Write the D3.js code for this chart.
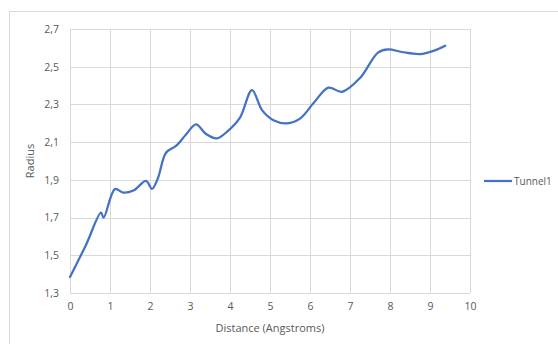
<!DOCTYPE html>
<html>
<head>
<meta charset="utf-8">
<script src="https://cdn.jsdelivr.net/npm/d3@7"></script>
<style>
  body { margin: 0; background: #fff; }
  text { font-family: "Open Sans", sans-serif; fill: #595959; }
</style>
</head>
<body>
<div id="chart"></div>
<script>
// Tunnel radius profile
var distance = [0, 0.4, 0.775, 0.84, 1.125, 1.33, 1.6, 1.9, 2.05, 2.2, 2.4, 2.65, 2.9, 3.15, 3.4, 3.67, 3.95, 4.25, 4.55, 4.8, 5.1, 5.42, 5.75, 6.1, 6.46, 6.8, 7.25, 7.7, 7.95, 8.3, 8.75, 9.1, 9.38];
var radius = [1.385, 1.555, 1.726, 1.70, 1.851, 1.832, 1.845, 1.895, 1.852, 1.91, 2.044, 2.08, 2.14, 2.194, 2.143, 2.12, 2.16, 2.23, 2.376, 2.27, 2.215, 2.2, 2.225, 2.31, 2.389, 2.367, 2.44, 2.575, 2.592, 2.578, 2.567, 2.585, 2.611];
var x_ticks = [0, 1, 2, 3, 4, 5, 6, 7, 8, 9, 10];
var y_ticks = [1.3, 1.5, 1.7, 1.9, 2.1, 2.3, 2.5, 2.7];
var series_name = 'Tunnel1';

var chart_width = 558;
var chart_height = 344;
var plot_left = 70, plot_right = 470, plot_top = 29, plot_bottom = 293;

var svg = d3.select('#chart')
	.append('svg')
	.attr('width', chart_width)
	.attr('height', chart_height);

// chart border
svg.append('rect')
	.attr('x', 9.5)
	.attr('y', 11.5)
	.attr('width', 600)
	.attr('height', 400)
	.attr('fill', 'none')
	.attr('stroke', '#d9d9d9');

var x_scale = d3.scaleLinear().domain([0, 10]).range([plot_left, plot_right]);
var y_scale = d3.scaleLinear().domain([1.3, 2.7]).range([plot_bottom, plot_top]);

var fmt = function(d){ return d3.format('.1f')(d).replace('.', ','); };

// grid
svg.append('g').selectAll('line')
	.data(y_ticks)
	.enter()
	.append('line')
	.attr('x1', plot_left).attr('x2', plot_right)
	.attr('y1', function(d){ return Math.round(y_scale(d)) + 0.5; })
	.attr('y2', function(d){ return Math.round(y_scale(d)) + 0.5; })
	.attr('stroke', '#d9d9d9');

svg.append('g').selectAll('line')
	.data(x_ticks)
	.enter()
	.append('line')
	.attr('y1', plot_top).attr('y2', plot_bottom)
	.attr('x1', function(d){ return Math.round(x_scale(d)) + 0.5; })
	.attr('x2', function(d){ return Math.round(x_scale(d)) + 0.5; })
	.attr('stroke', '#d9d9d9');

// axes
var x_axis = d3.axisBottom(x_scale).tickValues(x_ticks).tickSize(0).tickPadding(10).tickFormat(d3.format('d'));
svg.append('g')
	.attr('transform', 'translate(0,' + plot_bottom + ')')
	.call(x_axis)
	.call(function(g){ g.select('.domain').remove(); })
	.selectAll('text')
	.style('font-size', '10.5px')
	.attr('fill', '#595959');

var y_axis = d3.axisLeft(y_scale).tickValues(y_ticks).tickSize(0).tickPadding(11).tickFormat(fmt);
svg.append('g')
	.attr('transform', 'translate(' + plot_left + ',0)')
	.call(y_axis)
	.call(function(g){ g.select('.domain').remove(); })
	.selectAll('text')
	.style('font-size', '10.5px')
	.attr('fill', '#595959');

// axis titles
svg.append('text')
	.attr('x', (plot_left + plot_right) / 2)
	.attr('y', 332)
	.attr('text-anchor', 'middle')
	.style('font-size', '11px')
	.text('Distance (Angstroms)');

svg.append('text')
	.attr('transform', 'translate(34,' + ((plot_top + plot_bottom) / 2) + ') rotate(-90)')
	.attr('text-anchor', 'middle')
	.style('font-size', '11px')
	.text('Radius');

// line
var points = distance.map(function(d, i){ return [d, radius[i]]; });
var line = d3.line()
	.x(function(d){ return x_scale(d[0]); })
	.y(function(d){ return y_scale(d[1]); })
	.curve(d3.curveCatmullRom.alpha(0.5));

svg.append('path')
	.datum(points)
	.attr('d', line)
	.attr('fill', 'none')
	.attr('stroke', '#4472c4')
	.attr('stroke-width', 2.25)
	.attr('stroke-linecap', 'round');

// legend
svg.append('line')
	.attr('x1', 484).attr('x2', 512)
	.attr('y1', 181).attr('y2', 181)
	.attr('stroke', '#4472c4')
	.attr('stroke-width', 2.25);

svg.append('text')
	.attr('x', 514)
	.attr('y', 184.5)
	.style('font-size', '10px')
	.text(series_name);
</script>
</body>
</html>
